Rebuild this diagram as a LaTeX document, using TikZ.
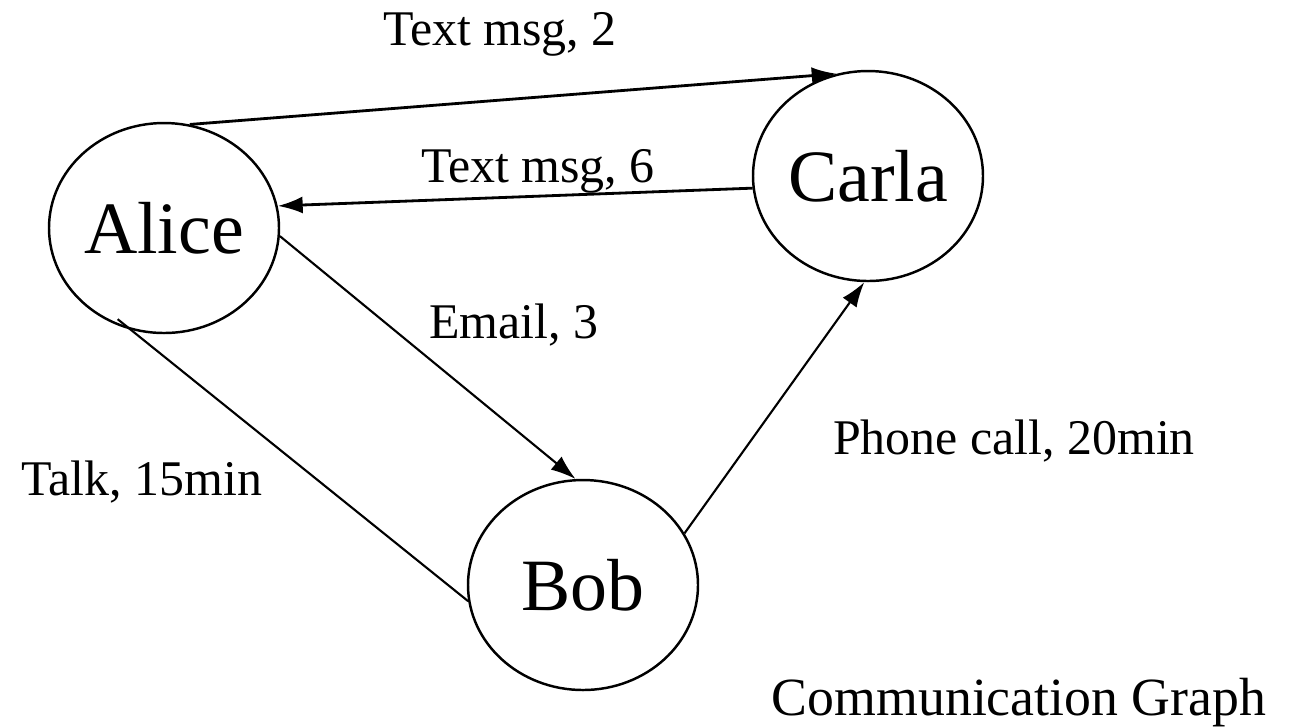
\documentclass[tikz,border=0pt]{standalone}
\usepackage{fontspec}
\setmainfont{Liberation Serif}
\usepackage{tikz}
\usetikzlibrary{arrows.meta,shapes.geometric}
\tikzset{
 >={Latex[length=2.5mm,width=1.7mm]},
 person/.style={shape=ellipse, draw, line width=0.7pt, inner sep=0pt,
   minimum width=2.3cm, minimum height=2.1cm,
   font=\fontsize{21}{25}\selectfont},
 lbl/.style={anchor=base, inner sep=0pt, font=\fontsize{14.2}{17}\selectfont},
 thick msg/.style={line width=0.8pt},
 thin msg/.style={line width=0.6pt}
}
\begin{document}
\begin{tikzpicture}
\useasboundingbox (0,0) rectangle (12.99,-7.26);

\path (1.64,-2.28) node[name=alice, person] {Alice};
\path (8.68,-1.76) node[name=carla, person] {Carla};
\path (5.83,-5.85) node[name=bob, person] {Bob};

%\path (alice) node[above] {};
\path[->, thick msg] (alice.76.5) edge (carla.107.8);
\path[->, thick msg] (carla.186.9) edge (alice.11.4);
\path[->, thin msg] (alice.-4.6) edge (bob.94.3);
\path[-, thin msg, shorten <=-0.17cm] (alice.-108) edge (bob.188.7);
\path[->, thin msg] (bob.27) edge (carla.268.4);

% labels
\path (5.00,-0.45) node[name=l2, lbl] {Text msg, 2};
\path (5.38,-1.82) node[name=l6, lbl] {Text msg, 6};
\path (5.14,-3.38) node[name=l3, lbl] {Email, 3};
\path (1.42,-4.95) node[name=l15, lbl] {Talk, 15min};
\path (10.14,-4.54) node[name=l20, lbl] {Phone call, 20min};

\path (10.19,-7.15) node[name=title, anchor=base, inner sep=0pt, font=\fontsize{15.3}{18}\selectfont] {Communication Graph};
\end{tikzpicture}
\end{document}
